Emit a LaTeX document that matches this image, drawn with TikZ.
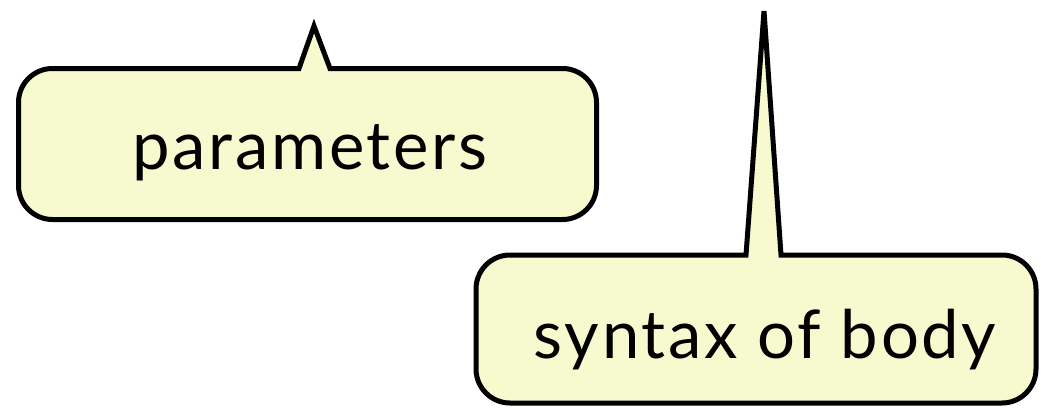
\documentclass[tikz,border=0pt]{standalone}
\usepackage{fontspec}
\setmainfont{Lato}[LetterSpace=4]
\usepackage{xcolor}
\definecolor{notefill}{HTML}{F6FACE}

\tikzset{
  note/.style={draw=black, line width=5pt, fill=notefill, line join=miter},
  notetext/.style={font=\fontsize{67}{72}\selectfont, inner sep=0pt, anchor=base}
}

\begin{document}
\begin{tikzpicture}[x=1pt,y=-1pt]
  \useasboundingbox (0,0) rectangle (1041,407);

  % first callout, pointer goes up
  \coordinate (ptip) at (314,26);
  \draw[note] (18.5,143) [rounded corners=34pt] -- (18.5,68.5)
      [sharp corners] -- (299,68.5) -- (ptip) -- (330,68.5)
      [rounded corners=34pt] -- (596.5,68.5) -- (596.5,219.5) -- (18.5,219.5)
      -- (18.5,143) -- cycle;
  \node[notetext] (params) at (310,169) {parameters};

  % second callout, long thin pointer
  \coordinate (btip) at (764,11);
  \draw[note] (476,330) [rounded corners=34pt] -- (476,255)
      [sharp corners] -- (746,255) -- (btip) -- (781,255)
      [rounded corners=34pt] -- (1036,255) -- (1036,403) -- (476,403)
      -- (476,330) -- cycle;
  \node[notetext] (body) at (765,358) {syntax of body};
\end{tikzpicture}
\end{document}
